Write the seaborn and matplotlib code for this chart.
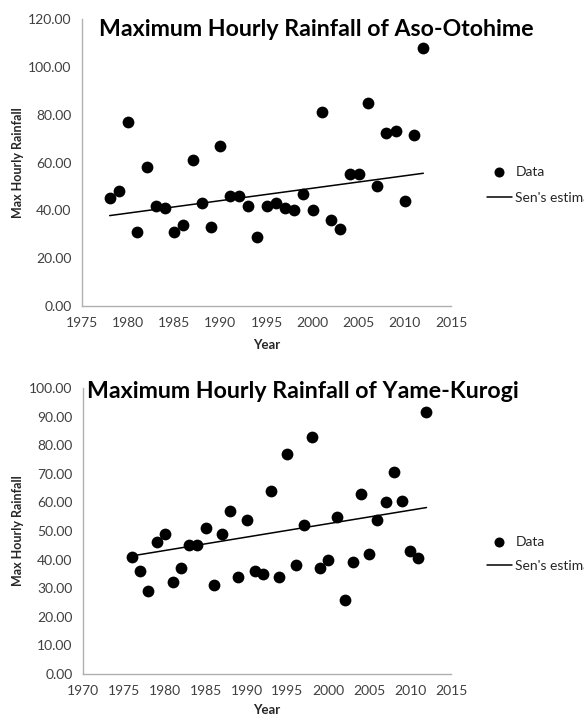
import numpy as np
import pandas as pd
import matplotlib
matplotlib.use("Agg")
import matplotlib.pyplot as plt
import seaborn as sns

# --- данные ---
aso_years = list(range(1978, 2013))
aso_rain = [45, 48, 77, 31, 58, 42, 41, 31, 34, 61, 43, 33, 67, 46, 46, 42, 29,
            42, 43, 41, 40, 47, 40, 81, 36, 32, 55, 55, 85, 50, 72.5, 73, 44,
            71.5, 108]
aso_sen_years = [1978, 2012]
aso_sen = [37.8, 55.5]

yame_years = list(range(1976, 2013))
yame_rain = [41, 36, 29, 46, 49, 32, 37, 45, 45, 51, 31, 49, 57, 34, 54, 36, 35,
             64, 34, 77, 38, 52, 83, 37, 40, 55, 26, 39, 63, 42, 54, 60, 70.5,
             60.5, 43, 40.5, 91.5]
yame_sen_years = [1976, 2012]
yame_sen = [41.3, 58.2]

sns.set_style("white")
plt.rcParams['font.family'] = ['Lato', 'DejaVu Sans']

W, H = 584, 718
fig = plt.figure(figsize=(W / 100, H / 100), dpi=100)

# положение панелей в пикселях: (левый край, правый, верх, низ)
panels = [
    dict(box=(82, 451, 19, 306),
         years=aso_years, rain=aso_rain, sy=aso_sen_years, sv=aso_sen,
         title="Maximum Hourly Rainfall of Aso-Otohime", title_xy=(316, 30),
         xlim=(1975, 2015), ylim=(0, 120), ystep=20,
         legend_xy=(487, 166), spacing=1.0, xlab_y=-0.115),
    dict(box=(83, 451, 388, 674),
         years=yame_years, rain=yame_rain, sy=yame_sen_years, sv=yame_sen,
         title="Maximum Hourly Rainfall of Yame-Kurogi", title_xy=(303, 392),
         xlim=(1970, 2015), ylim=(0, 100), ystep=10,
         legend_xy=(487, 536), spacing=0.85, xlab_y=-0.106),
]

for p in panels:
    l, r, t, b = p["box"]
    ax = fig.add_axes([l / W, 1 - b / H, (r - l) / W, (b - t) / H])
    df = pd.DataFrame({"Year": p["years"], "Rain": p["rain"]})
    sen = pd.DataFrame({"Year": p["sy"], "Rain": p["sv"]})
    sns.scatterplot(data=df, x="Year", y="Rain", ax=ax, color="black", s=72,
                    edgecolor="black", linewidth=0, label="Data", zorder=3)
    sns.lineplot(data=sen, x="Year", y="Rain", ax=ax, color="black", lw=1.1,
                 label="Sen's estimate", zorder=2)

    ax.set_xlim(*p["xlim"])
    ax.set_ylim(*p["ylim"])
    ax.set_xticks(np.arange(p["xlim"][0], p["xlim"][1] + 1, 5))
    yt = np.arange(p["ylim"][0], p["ylim"][1] + 0.1, p["ystep"])
    ax.set_yticks(yt)
    ax.set_yticklabels([f"{v:.2f}" for v in yt])

    for side in ["top", "right"]:
        ax.spines[side].set_visible(False)
    for side in ["left", "bottom"]:
        ax.spines[side].set_color("#b0b0b0")
        ax.spines[side].set_linewidth(1.0)
    ax.tick_params(axis="both", direction="out", length=3.6, width=1,
                   color="#b0b0b0", labelsize=10, labelcolor="#404040", pad=4)

    ax.set_xlabel("Year", fontsize=9.5, fontweight="bold")
    ax.set_ylabel("Max Hourly Rainfall", fontsize=9, fontweight="bold")
    ax.xaxis.set_label_coords(0.5, p["xlab_y"])
    ax.yaxis.set_label_coords((24 - l) / (r - l), 0.5)

    fig.text(p["title_xy"][0] / W, 1 - p["title_xy"][1] / H, p["title"],
             ha="center", va="center", fontsize=16.7, fontweight="bold",
             color="black")

    lx, ly = p["legend_xy"]
    ax.legend(loc="upper left", bbox_to_anchor=(lx / W, 1 - ly / H),
              bbox_transform=fig.transFigure, frameon=False, fontsize=10,
              handlelength=1.8, handletextpad=0.25, borderpad=0,
              borderaxespad=0, labelspacing=p["spacing"], markerscale=0.85)

fig.savefig("out.png", dpi=100)
